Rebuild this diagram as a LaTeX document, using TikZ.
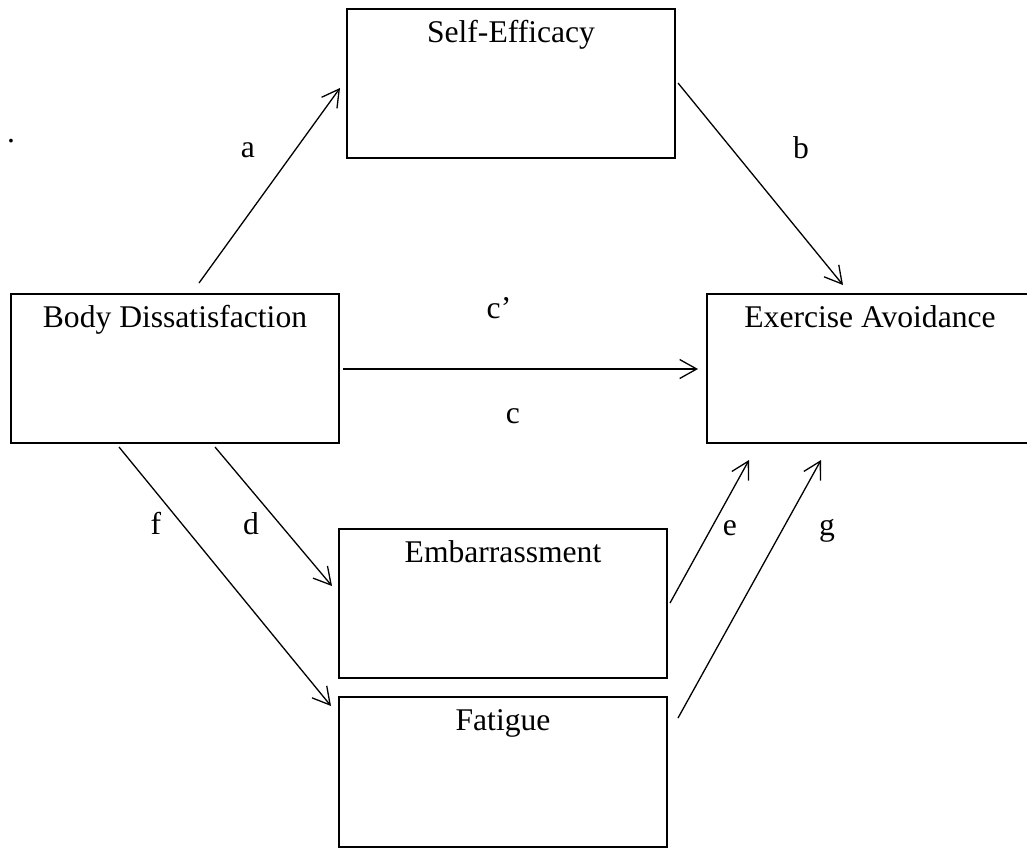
\documentclass[tikz,border=0pt]{standalone}
\usepackage{fontspec}
\setmainfont{Liberation Serif}
\usetikzlibrary{arrows.meta}
\begin{document}
\begin{tikzpicture}[x=0.5pt,y=-0.5pt,
  box/.style={draw, line width=1pt, rectangle, anchor=north west, outer sep=0pt,
    inner xsep=0pt, inner ysep=0pt, minimum width=164pt,
    text height=16.5pt, text depth=58pt, font=\fontsize{15.8}{19}\selectfont},
  arr/.style={line width=0.65pt, -{Straight Barb[length=8.5pt,width=9.5pt,line width=0.65pt]}},
  lbl/.style={anchor=base, inner sep=0pt, font=\fontsize{15.8}{19}\selectfont}]
\useasboundingbox (0,0) rectangle (1027,848);
\node[box] (se) at (347,9) {Self-Efficacy};
\node[box] (bd) at (11,294) {Body Dissatisfaction};
\node[box, minimum width=180pt] (ea) at (707,294) {Exercise Avoidance\hspace*{17pt}};
\node[box] (em) at (339,529) {Embarrassment};
\node[box, text depth=58.5pt] (fa) at (339,697) {Fatigue};
\node[lbl] (dot) at (11,142) {.};
% connectors
\draw[arr] ([shift={(188,-11)}]bd.north west) -- ([shift={(-7,79)}]se.north west);
\draw[arr] ([shift={(3,74)}]se.north east) -- ([shift={(136,-9)}]ea.north west);
\draw[arr] ([shift={(4,75)}]bd.north east) -- ([shift={(-9,75)}]ea.north west);
\draw[arr] ([shift={(204,4)}]bd.south west) -- ([shift={(-7,57)}]em.north west);
\draw[arr] ([shift={(108,4)}]bd.south west) -- ([shift={(-8,9)}]fa.north west);
\draw[arr] ([shift={(3,74)}]em.north east) -- ([shift={(42,17)}]ea.south west);
\draw[arr] ([shift={(11,21)}]fa.north east) -- ([shift={(114,17)}]ea.south west);
% labels
\node[lbl] (la) at (248,157) {a};
\node[lbl] (lb) at (801,158) {b};
\node[lbl] (lcp) at (499,318) {c’};
\node[lbl] (lc) at (513,423) {c};
\node[lbl] (lf) at (156,534) {f};
\node[lbl] (ld) at (251,534) {d};
\node[lbl] (le) at (730,535) {e};
\node[lbl] (lg) at (827,535) {g};
\end{tikzpicture}
\end{document}
